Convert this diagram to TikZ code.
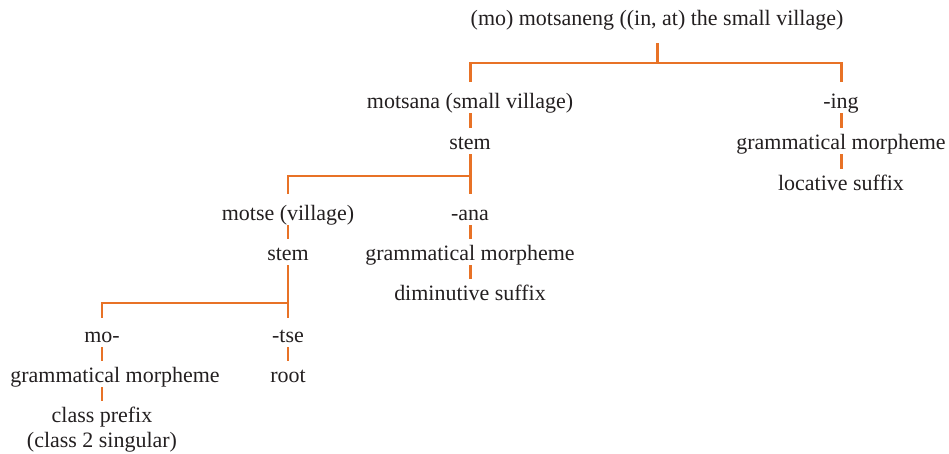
\documentclass[tikz,border=0pt]{standalone}
\usepackage{fontspec}
\setmainfont{Liberation Serif}
\definecolor{branch}{RGB}{232,114,38}
\definecolor{ink}{RGB}{35,31,32}
\begin{document}
\begin{tikzpicture}[x=0.02cm,y=-0.02cm,
    every node/.style={anchor=base,inner sep=0pt,text height=11.9pt,text depth=2.8pt,
      text=ink,font=\fontsize{12.5}{15}\selectfont},
    br/.style={draw=branch,line width=1.7pt}]
  \useasboundingbox (0,0) rectangle (949,453);
  \node (w) at (657,26) {(mo) motsaneng ((in, at) the small village)};
  \node (ms) at (470,108) {motsana (small village)};
  \node (ing) at (841,108) {-ing};
  \node (s1) at (470,149) {stem};
  \node (g1) at (841,149) {grammatical morpheme};
  \node (loc) at (841,190) {locative suffix};
  \node (mt) at (288,220) {motse (village)};
  \node (ana) at (470,220) {-ana};
  \node (s2) at (288,260) {stem};
  \node (g2) at (470,260) {grammatical morpheme};
  \node (dim) at (470,300) {diminutive suffix};
  \node (mo) at (102,342) {mo-};
  \node (tse) at (288,342) {-tse};
  \node (g3) at (115,382) {grammatical morpheme};
  \node (rt) at (288,382) {root};
  \node (cp) at (102,422) {class prefix};
  \node (cl) at (102,447) {(class 2 singular)};
  \coordinate (j1) at (657,63);
  \coordinate (j2) at (470,176);
  \coordinate (j3) at (288,303);
  \draw [br,shorten <=6.8pt] (w) -- (j1);
  \draw [br,shorten <=2.6pt,shorten >=2.6pt] (ms) |- (j1) -| (ing);
  \draw [br] (ms) -- (s1);
  \draw [br] (ing) -- (g1);
  \draw [br] (g1) -- (loc);
  \draw [br] (s1) -- (j2);
  \draw [br,shorten <=2.6pt,shorten >=2.6pt] (mt) |- (j2) -- (ana);
  \draw [br] (mt) -- (s2);
  \draw [br] (ana) -- (g2);
  \draw [br] (g2) -- (dim);
  \draw [br] (s2) -- (j3);
  \draw [br,shorten <=1.7pt,shorten >=1.7pt] (mo) |- (j3) -- (tse);
  \draw [br] (mo) -- (mo |- g3.north);
  \draw [br] (tse) -- (rt);
  \draw [br] (cp |- g3.south) -- (cp);
\end{tikzpicture}
\end{document}
